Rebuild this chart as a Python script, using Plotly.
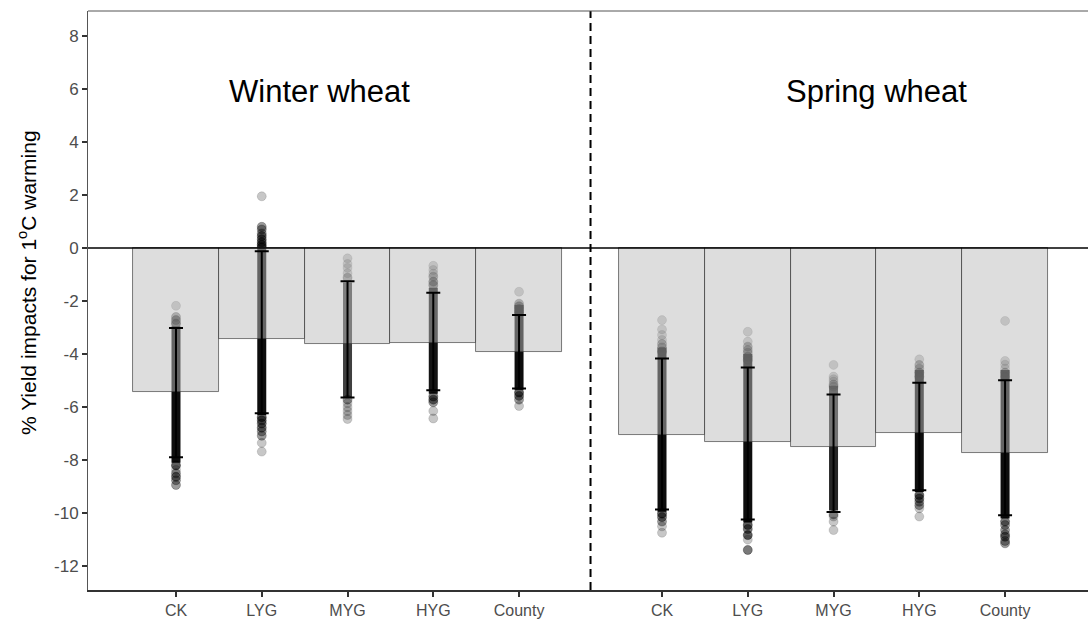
import plotly.graph_objects as go

# ---------------- data ----------------
categories = ["CK", "LYG", "MYG", "HYG", "County"]
panels = ["Winter wheat", "Spring wheat"]

winter_mean = [-5.43, -3.43, -3.63, -3.60, -3.94]
spring_mean = [-7.07, -7.30, -7.52, -6.98, -7.75]

winter_upper = [-3.02, -0.12, -1.25, -1.69, -2.53]
winter_lower = [-7.89, -6.23, -5.64, -5.37, -5.30]
spring_upper = [-4.17, -4.51, -5.53, -5.08, -4.99]
spring_lower = [-9.86, -10.24, -9.96, -9.14, -10.08]

# dense (overplotted) range of the individual estimates
winter_core_top = [-2.95, -0.05, -1.30, -1.50, -2.15]
winter_core_bottom = [-8.10, -6.30, -5.62, -5.50, -5.35]
spring_core_top = [-3.75, -4.00, -5.20, -4.60, -4.60]
spring_core_bottom = [-9.95, -10.35, -9.90, -9.20, -10.20]
winter_core_density = [0.95, 0.95, 0.75, 0.92, 0.95]
spring_core_density = [0.95, 0.95, 0.85, 0.95, 0.95]

# individual estimates outside the dense range: values and overlap counts
w_ck_vals = [-2.18, -2.60, -2.72, -2.85, -8.20, -8.37, -8.50, -8.63, -8.76, -8.94]
w_ck_n = [1, 2, 3, 4, 4, 1, 2, 3, 2, 2]
w_lyg_vals = [1.95, 0.80, 0.70, 0.55, 0.45, 0.33, 0.22, 0.12, 0.03,
              -6.38, -6.50, -6.62, -6.78, -6.92, -7.08, -7.35, -7.68]
w_lyg_n = [1, 2, 2, 2, 3, 3, 3, 4, 4, 4, 3, 3, 3, 2, 2, 1, 1]
w_myg_vals = [-0.39, -0.60, -0.75, -0.95, -1.12, -5.72, -5.85, -6.00, -6.15, -6.30, -6.45]
w_myg_n = [1, 1, 1, 1, 2, 2, 1, 1, 1, 1, 1]
w_hyg_vals = [-0.67, -0.83, -0.97, -1.08, -1.27, -1.40, -5.60, -5.72, -5.82, -6.15, -6.43]
w_hyg_n = [1, 1, 1, 2, 3, 3, 3, 3, 2, 1, 1]
w_cty_vals = [-1.65, -2.10, -2.20, -2.30, -2.42, -5.45, -5.58, -5.72, -5.96]
w_cty_n = [1, 2, 3, 4, 5, 4, 3, 2, 1]

s_ck_vals = [-2.72, -3.07, -3.28, -3.47, -3.62, -3.75, -3.90, -10.02, -10.15, -10.32, -10.50, -10.74]
s_ck_n = [1, 1, 1, 1, 2, 2, 3, 4, 3, 2, 1, 1]
s_lyg_vals = [-3.16, -3.53, -3.72, -3.85, -3.95, -4.10, -4.22, -10.45, -10.60, -10.83, -11.00, -11.39]
s_lyg_n = [1, 1, 2, 2, 2, 3, 3, 4, 3, 4, 1, 3]
s_myg_vals = [-4.41, -4.85, -4.95, -5.04, -5.15, -5.23, -10.05, -10.13, -10.32, -10.64]
s_myg_n = [1, 1, 1, 1, 2, 2, 2, 1, 1, 1]
s_hyg_vals = [-4.20, -4.41, -4.55, -4.70, -4.85, -9.32, -9.45, -9.57, -9.70, -9.82, -10.13]
s_hyg_n = [1, 2, 2, 3, 3, 4, 3, 2, 2, 1, 1]
s_cty_vals = [-2.75, -4.26, -4.40, -4.55, -4.70, -4.85, -10.32, -10.45, -10.64, -10.80, -10.89, -11.05, -11.14]
s_cty_n = [1, 1, 1, 1, 2, 2, 3, 2, 2, 2, 3, 2, 2]

y_tick_vals = [-12, -10, -8, -6, -4, -2, 0, 2, 4, 6, 8]
y_tick_text = ["-12", "-10", "-8", "-6", "-4", "-2", "0", "2", "4", "6", "8"]

# ---------------- layout helpers ----------------
SPRING_OFFSET = 5.667
pos_w = [i + 1 for i in range(len(categories))]
pos_s = [i + 1 + SPRING_OFFSET for i in range(len(categories))]
positions = pos_w + pos_s
means = winter_mean + spring_mean
uppers = winter_upper + spring_upper
lowers = winter_lower + spring_lower
core_top = winter_core_top + spring_core_top
core_bottom = winter_core_bottom + spring_core_bottom
core_den = winter_core_density + spring_core_density
pt_vals = [w_ck_vals, w_lyg_vals, w_myg_vals, w_hyg_vals, w_cty_vals,
           s_ck_vals, s_lyg_vals, s_myg_vals, s_hyg_vals, s_cty_vals]
pt_n = [w_ck_n, w_lyg_n, w_myg_n, w_hyg_n, w_cty_n,
        s_ck_n, s_lyg_n, s_myg_n, s_hyg_n, s_cty_n]

XR = [-0.026, 11.634]
YR = [-12.9, 8.94]
FONT = "Liberation Sans, Arial, sans-serif"
POINT_ALPHA = 0.22

fig = go.Figure()

# dense columns of points (bottom layer)
for x, t, b, d in zip(positions, core_top, core_bottom, core_den):
    fig.add_trace(go.Scatter(
        x=[x, x], y=[t, b], mode="lines",
        line=dict(color=f"rgba(0,0,0,{d})", width=9),
        hoverinfo="skip", showlegend=False))

# individual points
for x, vals, ns in zip(positions, pt_vals, pt_n):
    cols = [f"rgba(0,0,0,{1 - (1 - POINT_ALPHA) ** n:.3f})" for n in ns]
    fig.add_trace(go.Scatter(
        x=[x] * len(vals), y=vals, mode="markers",
        marker=dict(size=9, color=cols, line=dict(width=0.6, color=cols)),
        hoverinfo="skip", showlegend=False))

# semi-transparent bars with error bars on an overlaid axis pair (drawn on top)
fig.add_trace(go.Bar(
    x=positions, y=means, width=1.0,
    marker=dict(color="rgba(187,187,187,0.5)",
                line=dict(color="rgba(60,60,60,0.75)", width=0.9)),
    error_y=dict(type="data", symmetric=False,
                 array=[u - m for u, m in zip(uppers, means)],
                 arrayminus=[m - l for m, l in zip(means, lowers)],
                 color="black", thickness=2, width=7),
    xaxis="x2", yaxis="y2", showlegend=False, hoverinfo="skip"))

# zero line, divider, top border
fig.add_shape(type="line", xref="paper", x0=0, x1=1, yref="y", y0=0, y1=0,
              line=dict(color="black", width=1.6), layer="above")
divider_x = (pos_w[-1] + pos_s[0]) / 2
fig.add_shape(type="line", xref="x", x0=divider_x, x1=divider_x, yref="paper", y0=0, y1=1,
              line=dict(color="black", width=2, dash="8px,5px"), layer="above")
fig.add_shape(type="line", xref="paper", x0=0, x1=1, yref="paper", y0=1, y1=1,
              line=dict(color="#555555", width=1), layer="above")

# panel labels
fig.add_annotation(x=2.67, y=5.92, xref="x", yref="y", text=panels[0], showarrow=False,
                   font=dict(family=FONT, size=31, color="black"))
fig.add_annotation(x=9.17, y=5.92, xref="x", yref="y", text=panels[1], showarrow=False,
                   font=dict(family=FONT, size=31, color="black"))

# y title
fig.add_annotation(x=-61 / 1000, y=(590 - 283) / 579, xref="paper", yref="paper",
                   text="% Yield impacts for 1<sup>o</sup>C warming", textangle=-90,
                   showarrow=False, xanchor="center", yanchor="middle",
                   font=dict(family=FONT, size=21, color="black"))

fig.update_layout(
    width=1088, height=624,
    margin=dict(l=88, r=0, t=11, b=34),
    paper_bgcolor="white", plot_bgcolor="white",
    showlegend=False, bargap=0,
    font=dict(family=FONT),
    xaxis=dict(range=XR, tickvals=positions, ticktext=categories + categories,
               showgrid=False, zeroline=False, showline=True, linecolor="#333333",
               linewidth=1.8, ticks="outside", ticklen=5, tickwidth=1.5, tickcolor="#333333",
               tickfont=dict(family=FONT, size=16, color="#4D4D4D")),
    yaxis=dict(range=YR, tickvals=y_tick_vals, ticktext=y_tick_text,
               showgrid=False, zeroline=False, showline=True, linecolor="#555555",
               linewidth=1, ticks="outside", ticklen=5, tickwidth=1.5, tickcolor="#333333",
               tickfont=dict(family=FONT, size=17, color="#4D4D4D")),
    xaxis2=dict(range=XR, overlaying="x", visible=False, showgrid=False, zeroline=False),
    yaxis2=dict(range=YR, overlaying="y", visible=False, showgrid=False, zeroline=False),
)

fig.write_html("out.html")
